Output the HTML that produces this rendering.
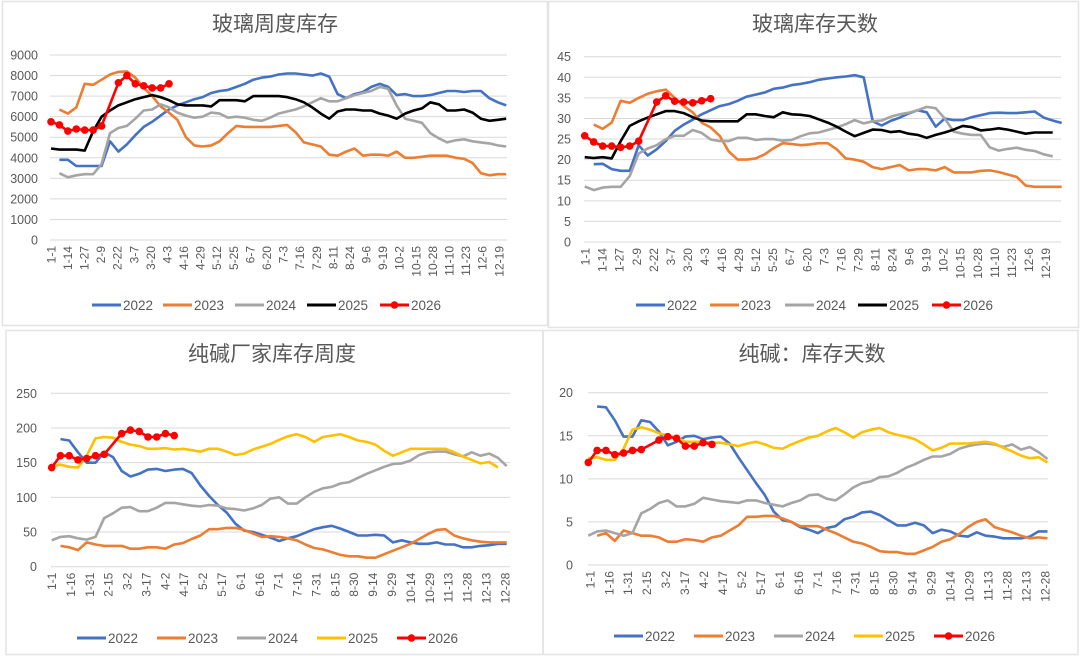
<!DOCTYPE html>
<html><head><meta charset="utf-8">
<style>
html,body{margin:0;padding:0;background:#fff;}
svg{display:block;font-family:"Liberation Sans","Noto Sans CJK SC",sans-serif;}
</style></head>
<body>
<svg id="root" width="1080" height="656" viewBox="0 0 1080 656" xmlns="http://www.w3.org/2000/svg">
<rect x="0" y="0" width="1080" height="656" fill="#fff"/>
<rect x="2.5" y="1.5" width="545" height="324" fill="none" stroke="#e3e3e3" stroke-width="1.5"/>
<rect x="548.5" y="1.5" width="530" height="326" fill="none" stroke="#e3e3e3" stroke-width="1.5"/>
<rect x="6" y="330.5" width="537" height="324" fill="none" stroke="#e3e3e3" stroke-width="1.5"/>
<rect x="543" y="330.5" width="535" height="324" fill="none" stroke="#e3e3e3" stroke-width="1.5"/>
</svg>
<script>
// ---------- Panel 1: 玻璃周度库存 ----------
const p1Labels = ["1-1","1-14","1-27","2-9","2-22","3-7","3-20","4-3","4-16","4-29","5-12","5-25","6-7","6-20","7-3","7-16","7-29","8-11","8-24","9-6","9-19","10-2","10-15","10-28","11-10","11-23","12-6","12-19"];
const p1Ticks = [0,1000,2000,3000,4000,5000,6000,7000,8000,9000];
const p1S2022 = [3900,3900,3600,3600,3600,3600,4800,4300,4650,5100,5500,5750,6050,6350,6550,6700,6850,6950,7150,7250,7300,7450,7600,7800,7900,7950,8050,8100,8100,8050,8000,8100,7950,7100,6900,7100,7200,7450,7600,7450,7050,7100,7000,7000,7050,7150,7250,7250,7200,7250,7250,6900,6700,6550];
const p1S2023 = [6350,6150,6450,7600,7550,7800,8050,8180,8200,7900,7400,7000,6500,6200,5850,5000,4600,4550,4600,4800,5200,5550,5500,5500,5500,5500,5550,5600,5250,4750,4650,4550,4150,4100,4300,4450,4100,4150,4150,4100,4300,4000,4000,4050,4100,4100,4100,4000,3950,3750,3250,3150,3200,3200];
const p1S2024 = [3250,3050,3150,3200,3200,3700,5200,5450,5550,5900,6300,6350,6600,6450,6200,6050,5950,6000,6200,6150,5950,6000,5950,5850,5800,5950,6150,6250,6350,6500,6700,6900,6750,6750,6900,7050,7150,7250,7450,7350,6550,5900,5800,5700,5200,4950,4750,4850,4900,4800,4750,4700,4600,4550];
const p1S2025 = [4450,4400,4400,4400,4350,5300,6000,6300,6550,6700,6850,6950,7050,6950,6800,6600,6550,6550,6550,6500,6800,6800,6800,6750,7000,7000,7000,7000,6950,6850,6700,6450,6150,5900,6250,6350,6350,6300,6300,6150,6050,5900,6150,6300,6400,6700,6600,6300,6300,6350,6200,5900,5800,5850,5900];
const p1S2026 = [5750,5600,5300,5400,5350,5350,5550,null,7650,8000,7600,7500,7400,7400,7600];

// ---------- Panel 2: 玻璃库存天数 ----------
const p2Labels = p1Labels;
const p2Ticks = [0,5,10,15,20,25,30,35,40,45];
const p2S2022 = [18.9,19,17.7,17.3,17.3,23.5,21,22.5,24.5,27,28.5,29.7,31,32,33,33.5,34.3,35.3,35.8,36.3,37.2,37.5,38.1,38.4,38.8,39.4,39.7,40,40.2,40.5,40,29.3,28.3,29.4,30.2,31.2,32,31.5,28,30,29.6,29.6,30.3,30.8,31.3,31.4,31.3,31.3,31.5,31.7,30.2,29.5,28.9];
const p2S2023 = [28.5,27.5,29,34.3,33.8,35,36,36.6,37,35,33,31.5,29,27.8,25.8,22,20,20,20.3,21.3,22.8,24,23.8,23.5,23.7,24,24,22.5,20.3,20,19.5,18.2,17.7,18.2,18.7,17.4,17.7,17.7,17.4,18.2,16.9,16.9,16.9,17.3,17.4,17,16.4,15.8,13.7,13.4,13.4,13.4,13.4];
const p2S2024 = [13.5,12.6,13.2,13.4,13.4,16,21.5,22.7,23.5,25,25.8,25.8,27.2,26.5,24.9,24.5,24.5,25.3,25.3,24.8,25,25,24.6,24.8,25.7,26.4,26.6,27.2,27.8,28.6,29.6,28.8,29.3,29.5,30.4,31,31.4,32,32.8,32.5,30,26.8,26.3,26,26,23,22.2,22.6,22.9,22.4,22.1,21.3,20.8];
const p2S2025 = [20.6,20.4,20.6,20.3,24.5,28.2,29.3,30.2,31,31.8,31.8,31.3,30.3,29.5,29.3,29.3,29.3,29.3,31,31,30.6,30.3,31.5,31,30.9,30.6,29.8,29,28,26.8,25.7,26.5,27.3,27.2,26.7,26.9,26.3,26,25.3,26,26.6,27.3,28.2,27.9,27.1,27.3,27.6,27.3,26.8,26.3,26.6,26.6,26.6];
const p2S2026 = [25.8,24.3,23.3,23.3,23,23.3,24.5,null,34,35.5,34.2,34,33.8,34.3,34.8];

// ---------- Panel 3: 纯碱厂家库存周度 ----------
const p3Labels = ["1-1","1-16","1-31","2-15","3-2","3-17","4-2","4-17","5-2","5-17","6-1","6-16","7-1","7-16","7-31","8-15","8-30","9-14","9-29","10-14","10-29","11-13","11-28","12-13","12-28"];
const p3Ticks = [0,50,100,150,200,250];
const p3S2022 = [184,182,165,150,150,165,158,138,130,134,140,141,138,140,141,135,117,102,89,78,62,52,50,46,42,37,41,44,49,54,57,59,55,50,45,45,46,45,35,38,35,33,33,35,32,32,28,28,30,31,33,33];
const p3S2023 = [30,28,24,35,32,30,30,30,26,26,28,28,26,32,34,40,45,54,54,56,56,53,48,43,44,43,41,38,32,27,25,21,17,15,15,13,13,18,23,28,33,40,47,53,54,45,41,38,36,35,35,35];
const p3S2024 = [38,43,44,41,39,43,70,77,85,86,80,80,85,92,92,90,88,87,89,88,84,83,81,84,89,98,100,91,91,100,108,113,115,120,122,128,134,139,144,148,149,153,161,165,166,166,162,159,165,160,163,157,145];
const p3S2025 = [145,147,144,143,160,185,187,186,180,176,174,170,170,171,169,170,168,166,170,170,166,161,163,169,173,177,183,188,191,187,180,187,189,191,187,182,180,176,167,160,165,170,170,170,170,170,165,159,154,149,151,143];
const p3S2026 = [143,160,160,154,156,160,162,null,192,197,195,187,187,192,189];

// ---------- Panel 4: 纯碱：库存天数 ----------
const p4Labels = p3Labels;
const p4Ticks = [0,5,10,15,20];
const p4S2022 = [18.4,18.3,16.8,14.9,14.9,16.8,16.6,15.5,13.9,14.3,14.9,15,14.6,14.8,14.9,14.1,12.5,11,9.5,8.1,6.2,5.2,5,4.4,4.1,3.7,4.3,4.5,5.3,5.6,6.1,6.2,5.8,5.2,4.6,4.6,4.9,4.6,3.7,4.1,3.9,3.4,3.3,3.8,3.4,3.3,3.1,3.1,3.1,3.3,3.9,3.9];
const p4S2023 = [3.4,3.7,2.8,4.0,3.7,3.4,3.4,3.2,2.7,2.7,3.0,2.9,2.7,3.2,3.4,4.0,4.6,5.6,5.6,5.7,5.7,5.4,5.0,4.5,4.5,4.5,4.1,3.7,3.2,2.7,2.5,2.1,1.6,1.5,1.5,1.3,1.3,1.7,2.1,2.7,3.0,3.6,4.4,5.0,5.3,4.4,4.1,3.8,3.4,3.1,3.2,3.1];
const p4S2024 = [3.4,3.9,4.0,3.7,3.4,3.7,6.0,6.5,7.2,7.5,6.8,6.8,7.1,7.8,7.6,7.4,7.3,7.2,7.5,7.5,7.2,7.0,6.8,7.2,7.5,8.1,8.2,7.7,7.5,8.2,9.0,9.5,9.7,10.2,10.3,10.7,11.3,11.7,12.2,12.6,12.6,12.9,13.5,13.8,14.0,14.1,14.0,13.7,14.0,13.4,13.7,13.1,12.3];
const p4S2025 = [12.4,12.5,12.2,12.2,13.5,15.7,16.0,15.7,15.3,15.0,14.8,14.3,14.3,14.3,14.2,14.2,14.0,13.8,14.1,14.3,14.0,13.6,13.5,14.0,14.4,14.8,15.0,15.5,15.9,15.4,14.8,15.4,15.7,15.9,15.4,15.1,14.9,14.6,14.0,13.3,13.6,14.1,14.1,14.1,14.2,14.3,14.1,13.6,13.2,12.7,12.4,12.5,11.9];
const p4S2026 = [11.9,13.3,13.3,12.8,13.0,13.3,13.4,null,14.5,14.9,14.7,13.8,13.8,14.2,14.0];

const NS = "http://www.w3.org/2000/svg";
const root = document.getElementById('root');
const COL = {"2022":"#4472C4","2023":"#ED7D31","2024":"#A5A5A5","2025":"#000000","2025y":"#FFC000","2026":"#FF0000"};

function mk(tag, attrs, parent) {
  const e = document.createElementNS(NS, tag);
  for (const k in attrs) e.setAttribute(k, attrs[k]);
  (parent || root).appendChild(e);
  return e;
}

function drawPanel(cfg) {
  const g = mk('g', {});
  
  
  const yScale = v => cfg.y0 + (cfg.yTop - cfg.y0) * (v / cfg.yMax);
  const xScale = i => cfg.x0 + i * cfg.step;
  // title
  const t = mk('text', {x: cfg.titleX, y: cfg.titleY, 'text-anchor': 'middle', 'font-size': 21, fill: '#595959'}, g);
  t.textContent = cfg.title;
  
  
  // grid + y ticks
  cfg.ticks.forEach(v => {
    const y = yScale(v);
    const ln = mk('line', {x1: cfg.gx1, x2: cfg.gx2, y1: y, y2: y, stroke: '#d9d9d9', 'stroke-width': 1}, g);
    
    
    const tx = mk('text', {x: cfg.ylx, y: y + 4.5, 'text-anchor': 'end', 'font-size': 12.5, fill: '#595959'}, g);
    tx.textContent = String(v);
    
    
  });
  // x labels
  const n = cfg.labels.length;
  cfg.labels.forEach((lab, k) => {
    const x = cfg.lx1 + (cfg.lx2 - cfg.lx1) * k / (n - 1);
    const y = cfg.y0 + 6;
    const tx = mk('text', {x: 0, y: 0, 'text-anchor': 'end', 'font-size': 12, fill: '#595959', transform: `translate(${x + 4.3},${y}) rotate(-90)`}, g);
    tx.textContent = lab;
    
    
  });
  // series
  cfg.series.forEach(s => {
    let d = '';
    s.values.forEach((v, k) => {
      if (v === null) return;
      const x = xScale(s.start + k), y = yScale(v);
      d += (d ? 'L' : 'M') + x.toFixed(1) + ',' + y.toFixed(1);
    });
    const p = mk('path', {d: d, fill: 'none', stroke: s.color, 'stroke-width': 2.6, 'stroke-linejoin': 'round'}, g);
    
    
    if (s.markers) {
      s.values.forEach((v, k) => {
        if (v === null) return;
        const c = mk('circle', {cx: xScale(s.start + k), cy: yScale(v), r: 3.8, fill: s.color}, g);
        
        
      });
    }
  });
  // legend
  cfg.series.forEach((s, k) => {
    const lx = cfg.legX[k], ly = cfg.legY;
    const lg = mk('g', {}, g);
    
    
    mk('line', {x1: lx, x2: lx + 29, y1: ly, y2: ly, stroke: s.color, 'stroke-width': 3}, lg);
    if (s.markers) mk('circle', {cx: lx + 14.5, cy: ly, r: 3.8, fill: s.color}, lg);
    const tx = mk('text', {x: lx + 31, y: ly + 5, 'font-size': 13.5, fill: '#595959'}, lg);
    tx.textContent = s.key;
  });
}

drawPanel({name:'chart-glass-weekly-inventory', title:'玻璃周度库存', titleX:275, titleY:31,
  yMax:9000, y0:240, yTop:55, ticks:p1Ticks, gx1:50, gx2:507, ylx:38,
  x0:51, step:8.43, labels:p1Labels, lx1:51, lx2:499,
  legX:[92,163,235,307,380], legY:305,
  series:[
    {key:'2022', color:COL['2022'], values:p1S2022, start:1},
    {key:'2023', color:COL['2023'], values:p1S2023, start:1},
    {key:'2024', color:COL['2024'], values:p1S2024, start:1},
    {key:'2025', color:COL['2025'], values:p1S2025, start:0},
    {key:'2026', color:COL['2026'], values:p1S2026, start:0, markers:true}
  ]});

drawPanel({name:'chart-glass-inventory-days', title:'玻璃库存天数', titleX:815, titleY:31,
  yMax:45, y0:242, yTop:56.7, ticks:p2Ticks, gx1:584, gx2:1061, ylx:571,
  x0:584.7, step:9.0, labels:p2Labels, lx1:585.3, lx2:1045.7,
  legX:[636,710,785,858,932], legY:305,
  series:[
    {key:'2022', color:COL['2022'], values:p2S2022, start:1},
    {key:'2023', color:COL['2023'], values:p2S2023, start:1},
    {key:'2024', color:COL['2024'], values:p2S2024, start:0},
    {key:'2025', color:COL['2025'], values:p2S2025, start:0},
    {key:'2026', color:COL['2026'], values:p2S2026, start:0, markers:true}
  ]});

drawPanel({name:'chart-soda-factory-inventory', title:'纯碱厂家库存周度', titleX:272, titleY:361,
  yMax:250, y0:566.7, yTop:393.3, ticks:p3Ticks, gx1:51, gx2:510, ylx:37,
  x0:51.7, step:8.75, labels:p3Labels, lx1:51.7, lx2:505,
  legX:[77,157,237,317,397], legY:638,
  series:[
    {key:'2022', color:COL['2022'], values:p3S2022, start:1},
    {key:'2023', color:COL['2023'], values:p3S2023, start:1},
    {key:'2024', color:COL['2024'], values:p3S2024, start:0},
    {key:'2025', color:COL['2025y'], values:p3S2025, start:0},
    {key:'2026', color:COL['2026'], values:p3S2026, start:0, markers:true}
  ]});

drawPanel({name:'chart-soda-inventory-days', title:'纯碱：库存天数', titleX:812, titleY:361,
  yMax:20, y0:565, yTop:392.7, ticks:p4Ticks, gx1:588, gx2:1048, ylx:573,
  x0:588.3, step:8.83, labels:p4Labels, lx1:590, lx2:1045,
  legX:[614,694,774,854,934], legY:636,
  series:[
    {key:'2022', color:COL['2022'], values:p4S2022, start:1},
    {key:'2023', color:COL['2023'], values:p4S2023, start:1},
    {key:'2024', color:COL['2024'], values:p4S2024, start:0},
    {key:'2025', color:COL['2025y'], values:p4S2025, start:0},
    {key:'2026', color:COL['2026'], values:p4S2026, start:0, markers:true}
  ]});
</script>
</body></html>
